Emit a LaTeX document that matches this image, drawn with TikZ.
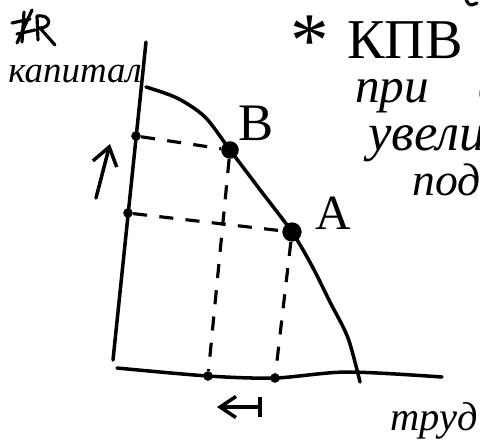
\documentclass[tikz,border=0pt]{standalone}
\usepackage{fontspec}
\setmainfont{Liberation Serif}
\usetikzlibrary{arrows.meta, positioning, calc}

\tikzset{
  axisline/.style={line width=2pt, line cap=round},
  guide/.style={line width=1.8pt, dash pattern=on 8pt off 7pt},
  scribble/.style={line width=1.8pt, line cap=round, line join=round},
  pt/.style={circle, fill=black, inner sep=0pt, minimum size=5.5pt},
  bigpt/.style={circle, fill=black, inner sep=0pt, minimum size=10pt},
  hand/.style={inner sep=0pt, font=\itshape\fontsize{#1}{#1}\selectfont},
  hand/.default=22,
  letter/.style={inner sep=0pt, font=\fontsize{#1}{#1}\selectfont},
  letter/.default=30,
}

\begin{document}
\begin{tikzpicture}[x=0.02cm, y=-0.02cm]
\useasboundingbox (0,0) rectangle (480,441);

% axes
\coordinate (yTop) at (146,42);
\coordinate (yBot) at (113,360);
\coordinate (xLeft) at (117,368);
\coordinate (xRight) at (442,377);
\coordinate (cStart) at (146,87);
\coordinate (cEnd) at (360,382);

\node[bigpt] (B) at (230,150) {};
\node[bigpt, minimum size=11pt] (A) at (292,232) {};
\node[pt] (yB) at (136,136) {};
\node[pt] (yA) at (128,213) {};
\node[pt] (xB) at (208,376) {};
\node[pt] (xA) at (275,378) {};

\draw[axisline] (yTop) -- (yBot);
\draw[axisline] plot[smooth] coordinates {(xLeft) (xB.center) (xA.center) (347,372) (xRight)};

% curve
\draw[axisline] plot[smooth] coordinates {(cStart) (177,98) (205,117) (B.center) (261,191) (A.center) (312,266) (330,302) (348,338) (cEnd)};

\draw[guide] (yB) -- (B);
\draw[guide] (yA) -- (A);
\draw[guide] (B) -- (xB);
\draw[guide] (A) -- (xA);

% arrows
\coordinate (upS) at (96,198);
\coordinate (upE) at (110,144);
\draw[axisline, -{Straight Barb[length=10pt,width=14pt]}] (upS) -- (upE);
\coordinate (lfS) at (262,407);
\coordinate (lfE) at (217,407);
\draw[axisline, {Bar[width=11pt]}-{Straight Barb[length=9pt,width=12pt]}] (lfS) -- (lfE);

% labels
\node[letter=30] (labB) at (256,123) {B};
\node[letter=28] (labA) at (333,213) {A};
\node[hand=21, anchor=base west] (capital) at (8,82) {капитал};
\node[hand=23, anchor=base west] (labour) at (390,430) {труд};

\node[letter=44, anchor=base] (star) at (310,66) {*};
\node[letter=32, anchor=base west] (kpv) at (347,58) {КПВ};
\node[hand=28, anchor=base west] (line1) at (355,102) {при\hspace{1em}с};
\node[hand=30, anchor=base west] (line2) at (368,150) {увели};
\node[hand=26, anchor=base west] (line3) at (412,195) {под};

% crossed out
\draw[scribble] (12,23) -- (30,19);
\draw[scribble] (17,34) -- (35,30);
\draw[scribble] (32,10) -- (17,43);
\draw[scribble] (24,12) -- (22,42);
\draw[scribble] (38,40) -- (37,16) .. controls (52,14) and (52,28) .. (40,28) -- (55,45);
\draw[scribble] (466,0) .. controls (470,6) .. (477,3);
\end{tikzpicture}
\end{document}
